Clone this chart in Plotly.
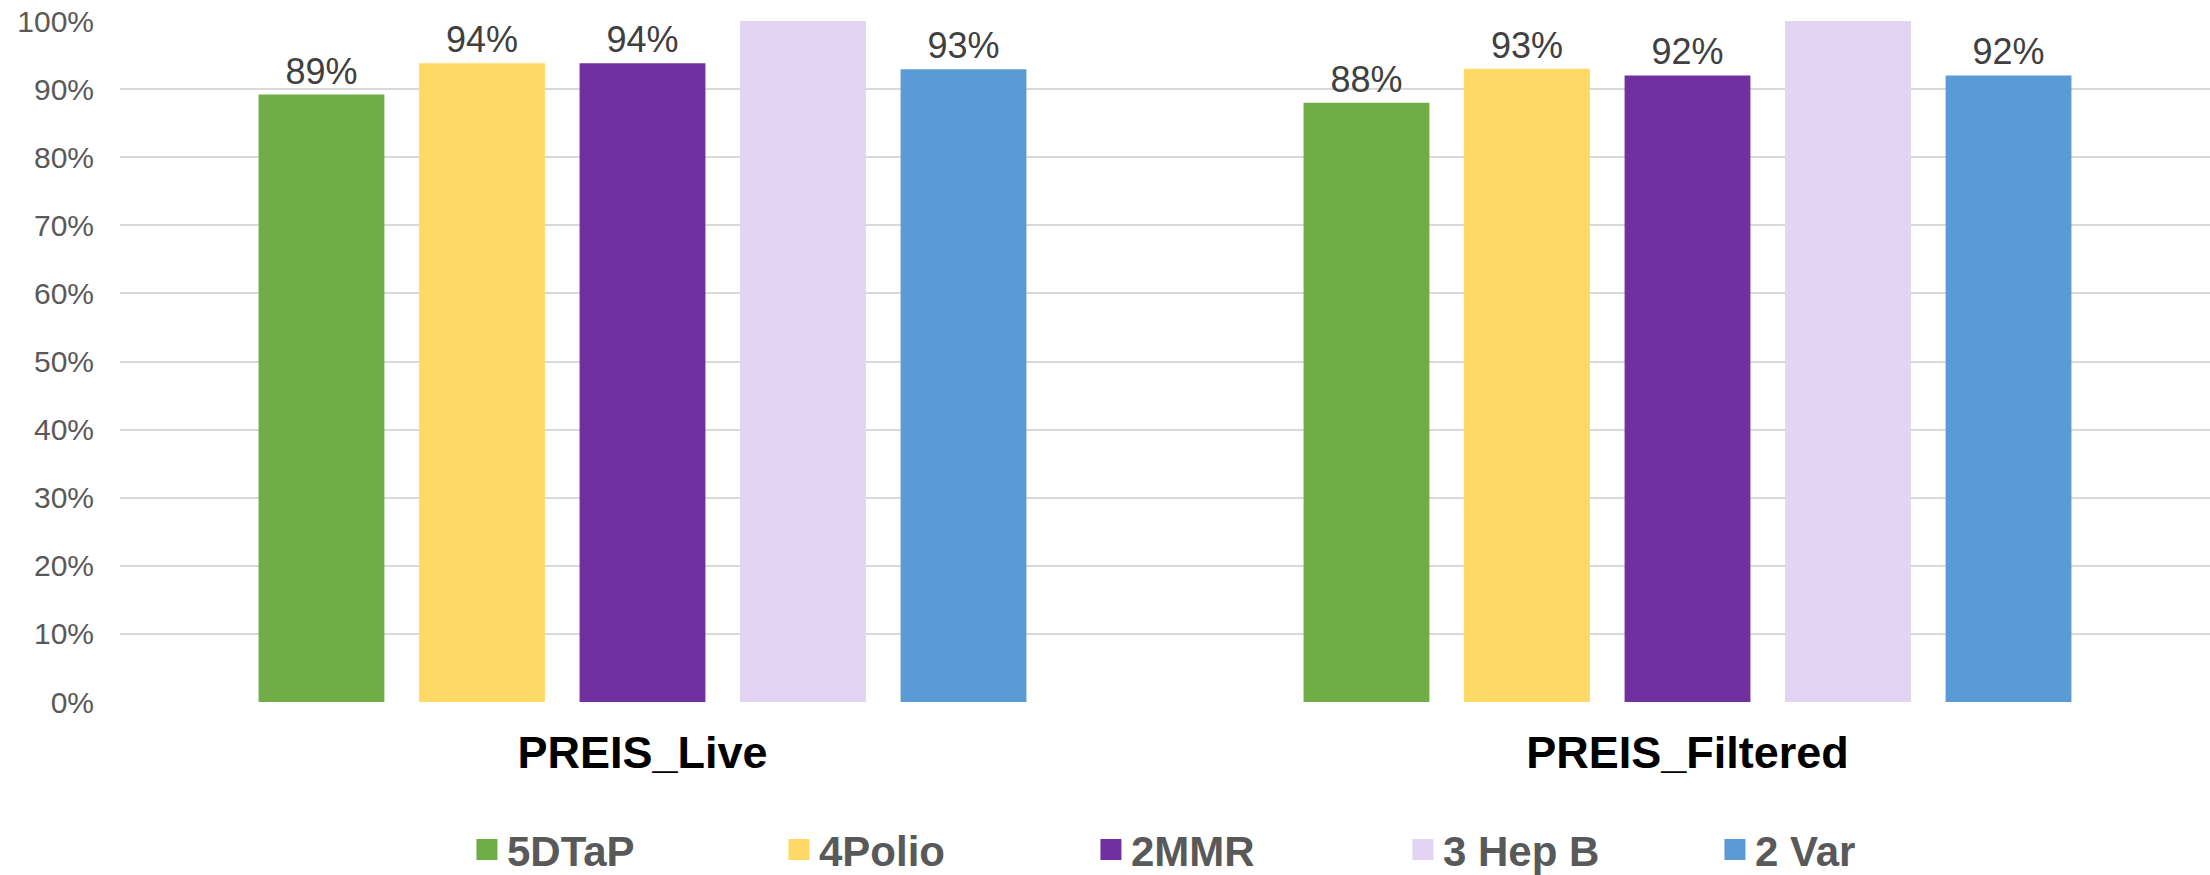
import plotly.graph_objects as go

categories = ["PREIS_Live", "PREIS_Filtered"]
series_names = ["5DTaP", "4Polio", "2MMR", "3 Hep B", "2 Var"]
dtap = [0.892, 0.880]
polio = [0.938, 0.930]
mmr = [0.938, 0.920]
hepb = [1.00, 1.00]
var = [0.929, 0.920]
series_values = [dtap, polio, mmr, hepb, var]
colors = ["#70AD47", "#FFD966", "#7030A0", "#E2D4F2", "#5B9BD5"]
show_labels = [True, True, True, False, True]
y_ticks = [i / 10 for i in range(11)]

FONT = "Liberation Sans, Arial, sans-serif"

fig = go.Figure()
for name, vals, col, lab in zip(series_names, series_values, colors, show_labels):
    fig.add_trace(go.Bar(
        name=name,
        x=categories,
        y=vals,
        legendgroup=name,
        showlegend=False,
        marker=dict(color=col, line=dict(width=0)),
        texttemplate="%{y:.0%}" if lab else None,
        textposition="outside" if lab else "none",
        textfont=dict(family=FONT, size=36, color="#404040"),
        cliponaxis=not lab,
    ))

# legend swatches (larger square keys, as in the reference)
for name, col in zip(series_names, colors):
    fig.add_trace(go.Scatter(
        name=name,
        x=[None],
        y=[None],
        mode="markers",
        legendgroup=name,
        showlegend=True,
        marker=dict(symbol="square", size=16, color=col,
                    line=dict(color=col, width=5)),
        hoverinfo="skip",
    ))

fig.update_layout(
    width=2210,
    height=875,
    margin=dict(l=120, r=0, t=21, b=173, autoexpand=False),
    paper_bgcolor="white",
    plot_bgcolor="white",
    barmode="group",
    bargap=0.232,
    bargroupgap=0.216,
    font=dict(family=FONT),
    showlegend=True,
    legend=dict(
        orientation="h",
        x=0.166,
        xanchor="left",
        y=-0.217,
        yanchor="middle",
        entrywidth=267,
        entrywidthmode="pixels",
        font=dict(family=FONT, size=42, color="#595959", weight="bold"),
        traceorder="normal",
    ),
    xaxis=dict(
        type="category",
        range=[-0.5, 1.5],
        showgrid=False,
        showline=False,
        zeroline=False,
        ticks="",
        automargin=False,
        tickfont=dict(family=FONT, size=45, color="#000000", weight="bold"),
        ticklabelstandoff=20,
    ),
    yaxis=dict(
        range=[0, 1],
        tickvals=y_ticks,
        tickformat=".0%",
        showgrid=True,
        gridcolor="#D9D9D9",
        gridwidth=2,
        zeroline=False,
        showline=False,
        ticks="",
        automargin=False,
        tickfont=dict(family=FONT, size=30, color="#595959"),
        ticklabelstandoff=25,
    ),
)

fig.write_html(
    "out.html",
    config={"displayModeBar": False},
    post_script="document.body.style.margin='0';document.body.style.overflow='hidden';",
)
